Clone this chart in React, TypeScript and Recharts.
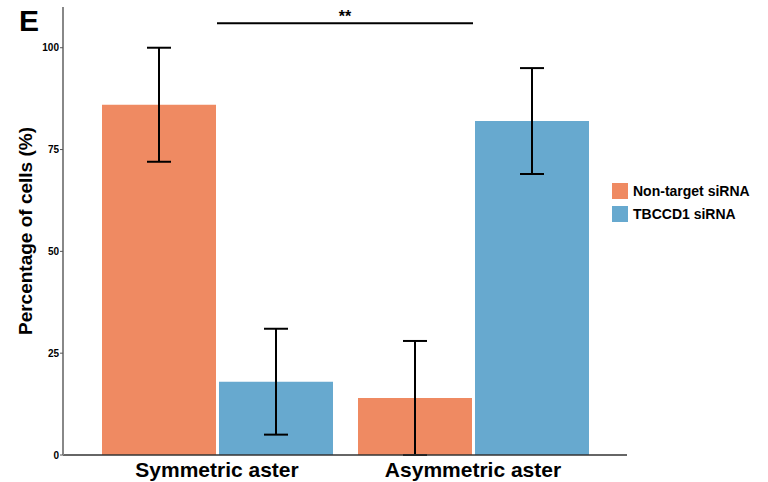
import { BarChart, Bar, XAxis, YAxis, ErrorBar, ReferenceLine } from "recharts";

const categories = ["Symmetric aster", "Asymmetric aster"];
const nonTarget = [86, 14];
const nonTargetLow = [72, 0];
const nonTargetHigh = [100, 28];
const tbccd1 = [18, 82];
const tbccd1Low = [5, 69];
const tbccd1High = [31, 95];
const yTicks = [0, 25, 50, 75, 100];

const COLORS = {
    nonTarget: "#ef8a62",
    tbccd1: "#67a9cf",
};

const FONT = "'Liberation Sans', Arial, Helvetica, sans-serif";

// error bars take [below, above] offsets from the mean
const data = categories.map((name, i) => ({
    name,
    nonTarget: nonTarget[i],
    nonTargetErr: [nonTarget[i] - nonTargetLow[i], nonTargetHigh[i] - nonTarget[i]],
    tbccd1: tbccd1[i],
    tbccd1Err: [tbccd1[i] - tbccd1Low[i], tbccd1High[i] - tbccd1[i]],
}));

const legendItems = [
    { label: "Non-target siRNA", color: COLORS.nonTarget },
    { label: "TBCCD1 siRNA", color: COLORS.tbccd1 },
];

// Legend sits outside the plot, like ggplot's right-hand key
const CustomLegend = () => (
    <div style={{
        position: "absolute",
        left: 612,
        top: 183,
        display: "flex",
        flexDirection: "column",
        gap: 7,
        fontFamily: FONT,
    }}>
        {legendItems.map((item) => (
            <div key={item.label} style={{ display: "flex", alignItems: "center", gap: 5, height: 16 }}>
                <div style={{ width: 16, height: 16, background: item.color }} />
                <span style={{ fontSize: 14, fontWeight: 700, color: "#000" }}>{item.label}</span>
            </div>
        ))}
    </div>
);

export default function App() {
    return (
        <div style={{ position: "absolute", left: 0, top: 0, width: 768, height: 482, background: "#fff" }}>
            <BarChart
                width={768}
                height={482}
                data={data}
                margin={{ top: 7, right: 141, left: 0, bottom: 0 }}
                barCategoryGap={13}
                barGap={3}
            >
                <XAxis
                    dataKey="name"
                    height={27}
                    padding={{ left: 26, right: 26 }}
                    tickLine={false}
                    axisLine={{ stroke: "#333", strokeWidth: 1.5 }}
                    tick={{ fontSize: 21, fontWeight: 700, fill: "#000", fontFamily: FONT }}
                    tickMargin={1}
                />
                <YAxis
                    width={63}
                    domain={[0, 110]}
                    ticks={yTicks}
                    tickSize={3}
                    tickMargin={1}
                    axisLine={{ stroke: "#888", strokeWidth: 2 }}
                    tickLine={{ stroke: "#555" }}
                    tick={{ fontSize: 10, fontWeight: 700, fill: "#000", fontFamily: FONT }}
                    label={{
                        value: "Percentage of cells (%)",
                        angle: -90,
                        position: "insideLeft",
                        offset: 25,
                        style: { textAnchor: "middle", fontSize: 19, fontWeight: 700, fill: "#000", fontFamily: FONT },
                    }}
                />
                <Bar dataKey="nonTarget" name="Non-target siRNA" fill={COLORS.nonTarget} isAnimationActive={false}>
                    <ErrorBar dataKey="nonTargetErr" width={12} stroke="#000" strokeWidth={2} />
                </Bar>
                <Bar dataKey="tbccd1" name="TBCCD1 siRNA" fill={COLORS.tbccd1} isAnimationActive={false}>
                    <ErrorBar dataKey="tbccd1Err" width={12} stroke="#000" strokeWidth={2} />
                </Bar>
                <ReferenceLine
                    segment={[
                        { x: categories[0], y: 106 },
                        { x: categories[1], y: 106 },
                    ]}
                    stroke="#000"
                    strokeWidth={2}
                    label={{ value: "**", position: "top", offset: 1, fontSize: 16, fontWeight: 700, fill: "#000", fontFamily: FONT }}
                />
            </BarChart>
            <CustomLegend />
            <div
                style={{
                    position: "absolute",
                    left: 19,
                    top: 4,
                    fontFamily: FONT,
                    fontWeight: 700,
                    fontSize: 30,
                    color: "#000",
                }}
            >
                E
            </div>
        </div>
    );
}
